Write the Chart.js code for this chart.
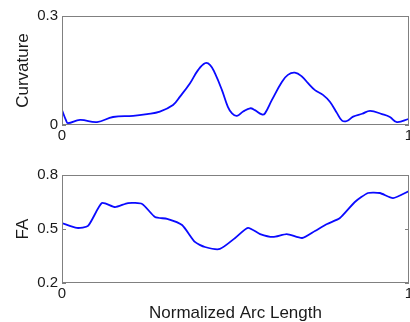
<!DOCTYPE html>
<html lang="en">
<head>
  <meta charset="UTF-8" />
  <title>Curvature and FA</title>
  <script src="https://cdn.jsdelivr.net/npm/chart.js"></script>
  <style>
    html, body { margin: 0; padding: 0; background: #fff; }
    .wrap { position: relative; width: 410px; height: 322px; }
    canvas { position: absolute; left: 0; }
    #curv { top: 0; }
    #fa { top: 145px; }
  </style>
</head>
<body>
  <div class="wrap">
    <canvas id="curv" width="410" height="145"></canvas>
    <canvas id="fa" width="410" height="177"></canvas>
  </div>

  <script>
    // normalized arc length positions and values
    const curvX = [0, 0.012, 0.017, 0.052, 0.101, 0.147, 0.205, 0.245, 0.282, 0.320,
      0.340, 0.369, 0.392, 0.412, 0.427, 0.441, 0.461, 0.478, 0.490, 0.504,
      0.522, 0.542, 0.556, 0.576, 0.585, 0.605, 0.634, 0.651, 0.671, 0.692,
      0.709, 0.729, 0.752, 0.772, 0.793, 0.807, 0.821, 0.839, 0.865, 0.888,
      0.922, 0.945, 0.965, 1.0];
    const curvY = [0.041, 0.012, 0.005, 0.014, 0.008, 0.022, 0.025, 0.030, 0.037, 0.055,
      0.078, 0.115, 0.151, 0.170, 0.165, 0.142, 0.096, 0.050, 0.032, 0.025,
      0.037, 0.046, 0.041, 0.029, 0.032, 0.069, 0.119, 0.138, 0.144, 0.133,
      0.115, 0.096, 0.083, 0.064, 0.032, 0.012, 0.011, 0.023, 0.031, 0.039,
      0.030, 0.022, 0.008, 0.017];

    const faX = [0, 0.043, 0.075, 0.115, 0.153, 0.190, 0.231, 0.268, 0.303, 0.346,
      0.383, 0.412, 0.455, 0.499, 0.536, 0.571, 0.608, 0.648, 0.692, 0.729,
      0.764, 0.801, 0.844, 0.882, 0.916, 0.954, 1.0];
    const faY = [0.533, 0.506, 0.517, 0.644, 0.622, 0.644, 0.639, 0.567, 0.556, 0.522,
      0.428, 0.400, 0.389, 0.450, 0.506, 0.472, 0.456, 0.472, 0.450, 0.489,
      0.528, 0.561, 0.650, 0.700, 0.700, 0.672, 0.711];

    const xTicks = [0, 1];
    const curvTicks = [0, 0.3];
    const faTicks = [0.2, 0.5, 0.8];

    const tickFont = { family: "'Liberation Sans', Arial", size: 15 };
    const titleFont = { family: "'Liberation Sans', Arial", size: 17, lineHeight: 1 };
    const textColor = "#1a1a1a";
    const frameColor = "#808080";

    // matlab style box with inward tick marks
    const boxPlugin = {
      id: "box",
      afterDraw(chart) {
        const { ctx, chartArea: a, scales } = chart;
        ctx.save();
        ctx.strokeStyle = frameColor;
        ctx.lineWidth = 1;
        ctx.strokeRect(a.left + 0.5, a.top + 0.5, a.right - a.left - 1, a.bottom - a.top - 1);
        ctx.beginPath();
        scales.y.ticks.forEach(t => {
          const y = Math.round(scales.y.getPixelForValue(t.value)) + 0.5;
          ctx.moveTo(a.left, y); ctx.lineTo(a.left + 4, y);
          ctx.moveTo(a.right, y); ctx.lineTo(a.right - 4, y);
        });
        ctx.stroke();
        ctx.restore();
      }
    };

    function makeChart(id, xs, ys, yTicks, yTitle, showXTitle, padTop, xHeight, tension) {
      return new Chart(document.getElementById(id), {
        type: "line",
        data: {
          datasets: [{
            data: xs.map((x, i) => ({ x: x, y: ys[i] })),
            borderColor: "#0a0aff",
            borderWidth: 1.8,
            tension: tension,
            pointRadius: 0,
            fill: false
          }]
        },
        options: {
          responsive: false,
          animation: false,
          layout: { padding: { top: padTop, right: 1, left: 0, bottom: 0 } },
          plugins: { legend: { display: false }, tooltip: { enabled: false } },
          scales: {
            x: {
              type: "linear",
              min: 0,
              max: 1,
              afterBuildTicks: s => { s.ticks = xTicks.map(v => ({ value: v })); },
              afterFit: s => { s.height = xHeight; s.paddingLeft = 0; s.paddingRight = 0; },
              grid: { display: false, drawTicks: false },
              border: { display: false },
              ticks: { font: tickFont, color: textColor, padding: 2, maxRotation: 0 },
              title: {
                display: showXTitle,
                text: "Normalized Arc Length",
                font: titleFont,
                color: textColor,
                padding: { top: 0, bottom: 0 }
              }
            },
            y: {
              min: yTicks[0],
              max: yTicks[yTicks.length - 1],
              afterBuildTicks: s => { s.ticks = yTicks.map(v => ({ value: v })); },
              afterFit: s => { s.width = 62; s.paddingTop = 0; s.paddingBottom = 0; },
              grid: { display: false, drawTicks: false },
              border: { display: false },
              ticks: { font: tickFont, color: textColor, padding: 4 },
              title: {
                display: true,
                text: yTitle,
                font: titleFont,
                color: textColor,
                padding: { top: 15, bottom: 0 }
              }
            }
          }
        },
        plugins: [boxPlugin]
      });
    }

    makeChart("curv", curvX, curvY, curvTicks, "Curvature", false, 16, 20, 0.4);
    makeChart("fa", faX, faY, faTicks, "FA", true, 30, 39, 0.2);
  </script>
</body>
</html>
